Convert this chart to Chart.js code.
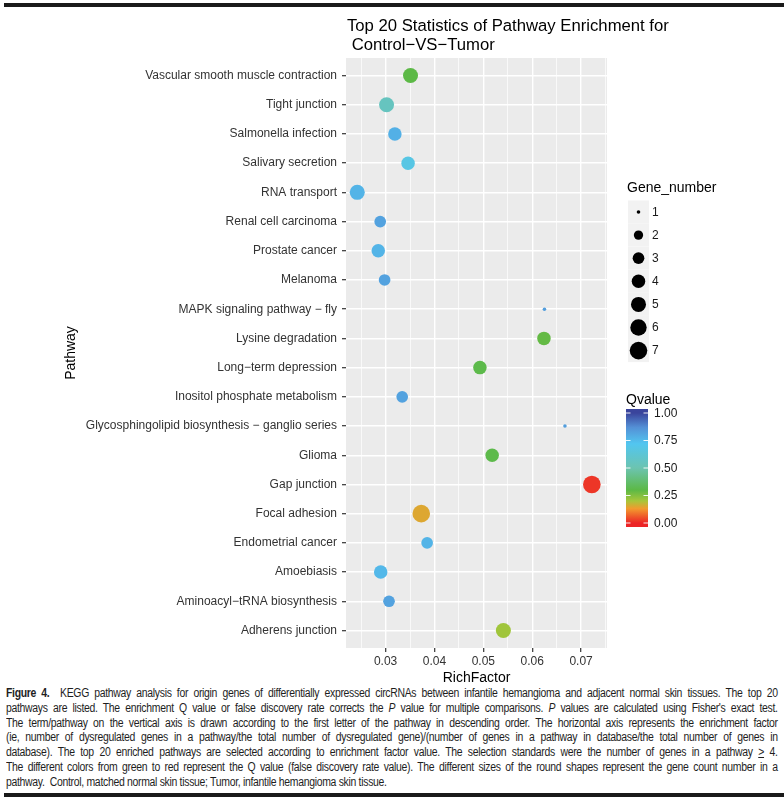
<!DOCTYPE html>
<html>
<head>
<meta charset="utf-8">
<script src="https://cdn.jsdelivr.net/npm/chart.js@4.4.1/dist/chart.umd.min.js"></script>
<style>
  html, body { margin: 0; padding: 0; background: #fff; }
  #wrap { position: relative; width: 784px; height: 799px; overflow: hidden; }
  #chart { position: absolute; left: 0; top: 0; }
  .bar { position: absolute; left: 4px; right: 0; height: 4px; background: #1a1a1a; }
  #caption { position: absolute; left: 6px; top: 686px; width: 887px; transform: scaleX(0.87); transform-origin: 0 0;
    font-family: 'Liberation Sans', Arial, sans-serif; font-size: 12px; letter-spacing: -0.35px; line-height: 14.8px; color: #1e1e1e; }
  #caption div { text-align: justify; text-align-last: justify; white-space: nowrap; }
  #caption div.last { text-align-last: left; }
</style>
</head>
<body>
<div id="wrap">
  <div class="bar" style="top:3px"></div>
  <canvas id="chart" width="784" height="686"></canvas>
  <div id="caption">
    <div><b>Figure 4.</b>&nbsp; KEGG pathway analysis for origin genes of differentially expressed circRNAs between infantile hemangioma and adjacent normal skin tissues. The top 20</div>
    <div>pathways are listed. The enrichment Q value or false discovery rate corrects the <i>P</i> value for multiple comparisons. <i>P</i> values are calculated using Fisher's exact test.</div>
    <div>The term/pathway on the vertical axis is drawn according to the first letter of the pathway in descending order. The horizontal axis represents the enrichment factor</div>
    <div>(ie, number of dysregulated genes in a pathway/the total number of dysregulated gene)/(number of genes in a pathway in database/the total number of genes in</div>
    <div>database). The top 20 enriched pathways are selected according to enrichment factor value. The selection standards were the number of genes in a pathway <u>&gt;</u> 4.</div>
    <div>The different colors from green to red represent the Q value (false discovery rate value). The different sizes of the round shapes represent the gene count number in a</div>
    <div class="last">pathway.&nbsp; Control, matched normal skin tissue; Tumor, infantile hemangioma skin tissue.</div>
  </div>
  <div class="bar" style="top:793px"></div>
</div>
<script>
'use strict';

// pathways, top to bottom
let pathways = [
    'Vascular smooth muscle contraction',
    'Tight junction',
    'Salmonella infection',
    'Salivary secretion',
    'RNA transport',
    'Renal cell carcinoma',
    'Prostate cancer',
    'Melanoma',
    'MAPK signaling pathway \u2212 fly',
    'Lysine degradation',
    'Long\u2212term depression',
    'Inositol phosphate metabolism',
    'Glycosphingolipid biosynthesis \u2212 ganglio series',
    'Glioma',
    'Gap junction',
    'Focal adhesion',
    'Endometrial cancer',
    'Amoebiasis',
    'Aminoacyl\u2212tRNA biosynthesis',
    'Adherens junction'
];
let richFactor = [0.0351, 0.0302, 0.0319, 0.0346, 0.0242, 0.0289, 0.0285, 0.0298, 0.0625, 0.0624,
                  0.0493, 0.0334, 0.0667, 0.0518, 0.0722, 0.0373, 0.0385, 0.0290, 0.0307, 0.0541];
let geneNumber = [5, 5, 4, 4, 5, 3, 4, 3, 1, 4, 4, 3, 1, 4, 7, 7, 3, 4, 3, 5];
let qValue = [0.30, 0.55, 0.78, 0.68, 0.77, 0.82, 0.77, 0.82, 0.83, 0.29,
              0.31, 0.82, 0.83, 0.31, 0.02, 0.15, 0.77, 0.76, 0.82, 0.21];

let xTicks = [0.03, 0.04, 0.05, 0.06, 0.07];
let sizeLevels = [1, 2, 3, 4, 5, 6, 7];
let qTicks = [0, 0.25, 0.5, 0.75, 1];

let qStops = [[0, '#ec2426'], [0.13, '#f29a2e'], [0.2, '#a8c63a'], [0.3, '#5cb946'],
              [0.5, '#6cc4b0'], [0.72, '#52c6f0'], [0.87, '#5490d6'], [1, '#3a449c']];

let font = "'Liberation Sans', Arial, sans-serif";

function hex(c) {
    return [parseInt(c.slice(1, 3), 16), parseInt(c.slice(3, 5), 16), parseInt(c.slice(5, 7), 16)];
}

function qColor(q) {
    for (let i = 1; i < qStops.length; i++) {
        if (q <= qStops[i][0]) {
            let a = hex(qStops[i - 1][1]);
            let b = hex(qStops[i][1]);
            let t = (q - qStops[i - 1][0]) / (qStops[i][0] - qStops[i - 1][0]);
            let c = a.map((v, k) => Math.round(v + (b[k] - v) * t));
            return `rgb(${c[0]},${c[1]},${c[2]})`;
        }
    }
    return qStops[qStops.length - 1][1];
}

// ggplot-like area scale for the dots
function sizeRadius(n) {
    return 1.4 * (1 + 5 * Math.sqrt((n - 1) / 6)) + 0.4;
}

let points = [];
for (let i = 0; i < pathways.length; i++) {
    points.push({ x: richFactor[i], y: i, r: sizeRadius(geneNumber[i]) });
}

let xMin = 0.0219;
let xMax = 0.0753;

function isMajor(v) {
    return xTicks.some(t => Math.abs(t - v) < 1e-6);
}

let panelBg = {
    id: 'panelBg',
    beforeDraw(chart) {
        let ctx = chart.ctx;
        let a = chart.chartArea;
        ctx.save();
        ctx.fillStyle = '#ebebeb';
        ctx.fillRect(a.left, a.top, a.right - a.left, a.bottom - a.top);
        ctx.restore();
    }
};

let extras = {
    id: 'extras',
    afterDraw(chart) {
        let ctx = chart.ctx;
        let a = chart.chartArea;
        ctx.save();

        // title
        ctx.fillStyle = '#000';
        ctx.textBaseline = 'middle';
        ctx.textAlign = 'left';
        ctx.font = '16.7px ' + font;
        ctx.fillText('Top 20 Statistics of Pathway Enrichment for', a.left + 1, 26);
        ctx.fillText(' Control\u2212VS\u2212Tumor', a.left + 1, 45);

        // axis titles
        ctx.font = '14px ' + font;
        ctx.textAlign = 'center';
        ctx.fillText('RichFactor', (a.left + a.right) / 2, 678);
        ctx.save();
        ctx.translate(71, (a.top + a.bottom) / 2);
        ctx.rotate(-Math.PI / 2);
        ctx.fillText('Pathway', 0, 0);
        ctx.restore();

        // size legend
        ctx.textAlign = 'left';
        ctx.font = '14px ' + font;
        ctx.fillText('Gene_number', 627, 188);
        ctx.font = '12px ' + font;
        sizeLevels.forEach((n, i) => {
            let cy = 212 + i * 23.1;
            ctx.fillStyle = '#f2f2f2';
            ctx.fillRect(628, cy - 11.5, 21, 23);
            ctx.fillStyle = '#000';
            ctx.beginPath();
            ctx.arc(638.5, cy, sizeRadius(n), 0, Math.PI * 2);
            ctx.fill();
            ctx.fillStyle = '#1a1a1a';
            ctx.fillText(String(n), 652, cy + 0.5);
        });

        // colour bar
        ctx.fillStyle = '#000';
        ctx.font = '14px ' + font;
        ctx.fillText('Qvalue', 626, 400);
        let top = 409, bottom = 527, y0 = 523, y1 = 413;
        let grad = ctx.createLinearGradient(0, y0, 0, y1);
        qStops.forEach(s => grad.addColorStop(s[0], s[1]));
        ctx.fillStyle = grad;
        ctx.fillRect(626, top, 22, bottom - top);
        ctx.strokeStyle = 'rgba(255,255,255,0.9)';
        ctx.lineWidth = 1;
        ctx.font = '12px ' + font;
        qTicks.forEach(q => {
            let y = y0 - (y0 - y1) * q;
            ctx.beginPath();
            ctx.moveTo(626, y); ctx.lineTo(630.5, y);
            ctx.moveTo(643.5, y); ctx.lineTo(648, y);
            ctx.stroke();
            ctx.fillStyle = '#1a1a1a';
            ctx.fillText(q.toFixed(2), 654, y + 0.5);
        });

        ctx.restore();
    }
};

new Chart(document.getElementById('chart'), {
    type: 'bubble',
    data: {
        datasets: [{
            data: points,
            backgroundColor: points.map((p, i) => qColor(qValue[i])),
            borderWidth: 0,
            hoverBorderWidth: 0
        }]
    },
    options: {
        responsive: false,
        animation: false,
        devicePixelRatio: 1,
        layout: { padding: { left: 0, right: 177, top: 58, bottom: 0 } },
        plugins: { legend: { display: false }, tooltip: { enabled: false } },
        events: [],
        scales: {
            x: {
                type: 'linear',
                min: xMin,
                max: xMax,
                afterBuildTicks(scale) {
                    let ticks = [];
                    for (let k = 0; k < xTicks.length; k++) {
                        ticks.push({ value: xTicks[k] - 0.005 });
                        ticks.push({ value: xTicks[k] });
                    }
                    ticks.push({ value: xTicks[xTicks.length - 1] + 0.005 });
                    scale.ticks = ticks.filter(t => t.value >= xMin && t.value <= xMax);
                },
                afterFit(scale) { scale.height = 38; },
                border: { display: false },
                grid: {
                    color: '#ffffff',
                    lineWidth: c => isMajor(c.tick.value) ? 1.4 : 0.7,
                    tickColor: c => isMajor(c.tick.value) ? '#333333' : 'rgba(0,0,0,0)',
                    tickLength: 4,
                    tickWidth: 1.2
                },
                ticks: {
                    autoSkip: false,
                    maxRotation: 0,
                    padding: 2,
                    color: '#333333',
                    font: { family: font, size: 12 },
                    callback: v => isMajor(v) ? v.toFixed(2) : ''
                }
            },
            y: {
                type: 'linear',
                reverse: true,
                min: -0.6,
                max: pathways.length - 0.4,
                afterBuildTicks(scale) {
                    scale.ticks = pathways.map((p, i) => ({ value: i }));
                },
                afterFit(scale) { scale.width = 346; },
                border: { display: false },
                grid: {
                    color: '#ffffff',
                    lineWidth: 1.4,
                    tickColor: '#333333',
                    tickLength: 4,
                    tickWidth: 1.2
                },
                ticks: {
                    autoSkip: false,
                    padding: 5,
                    color: '#333333',
                    font: { family: font, size: 12 },
                    callback: v => pathways[v]
                }
            }
        }
    },
    plugins: [panelBg, extras]
});
</script>
</body>
</html>
